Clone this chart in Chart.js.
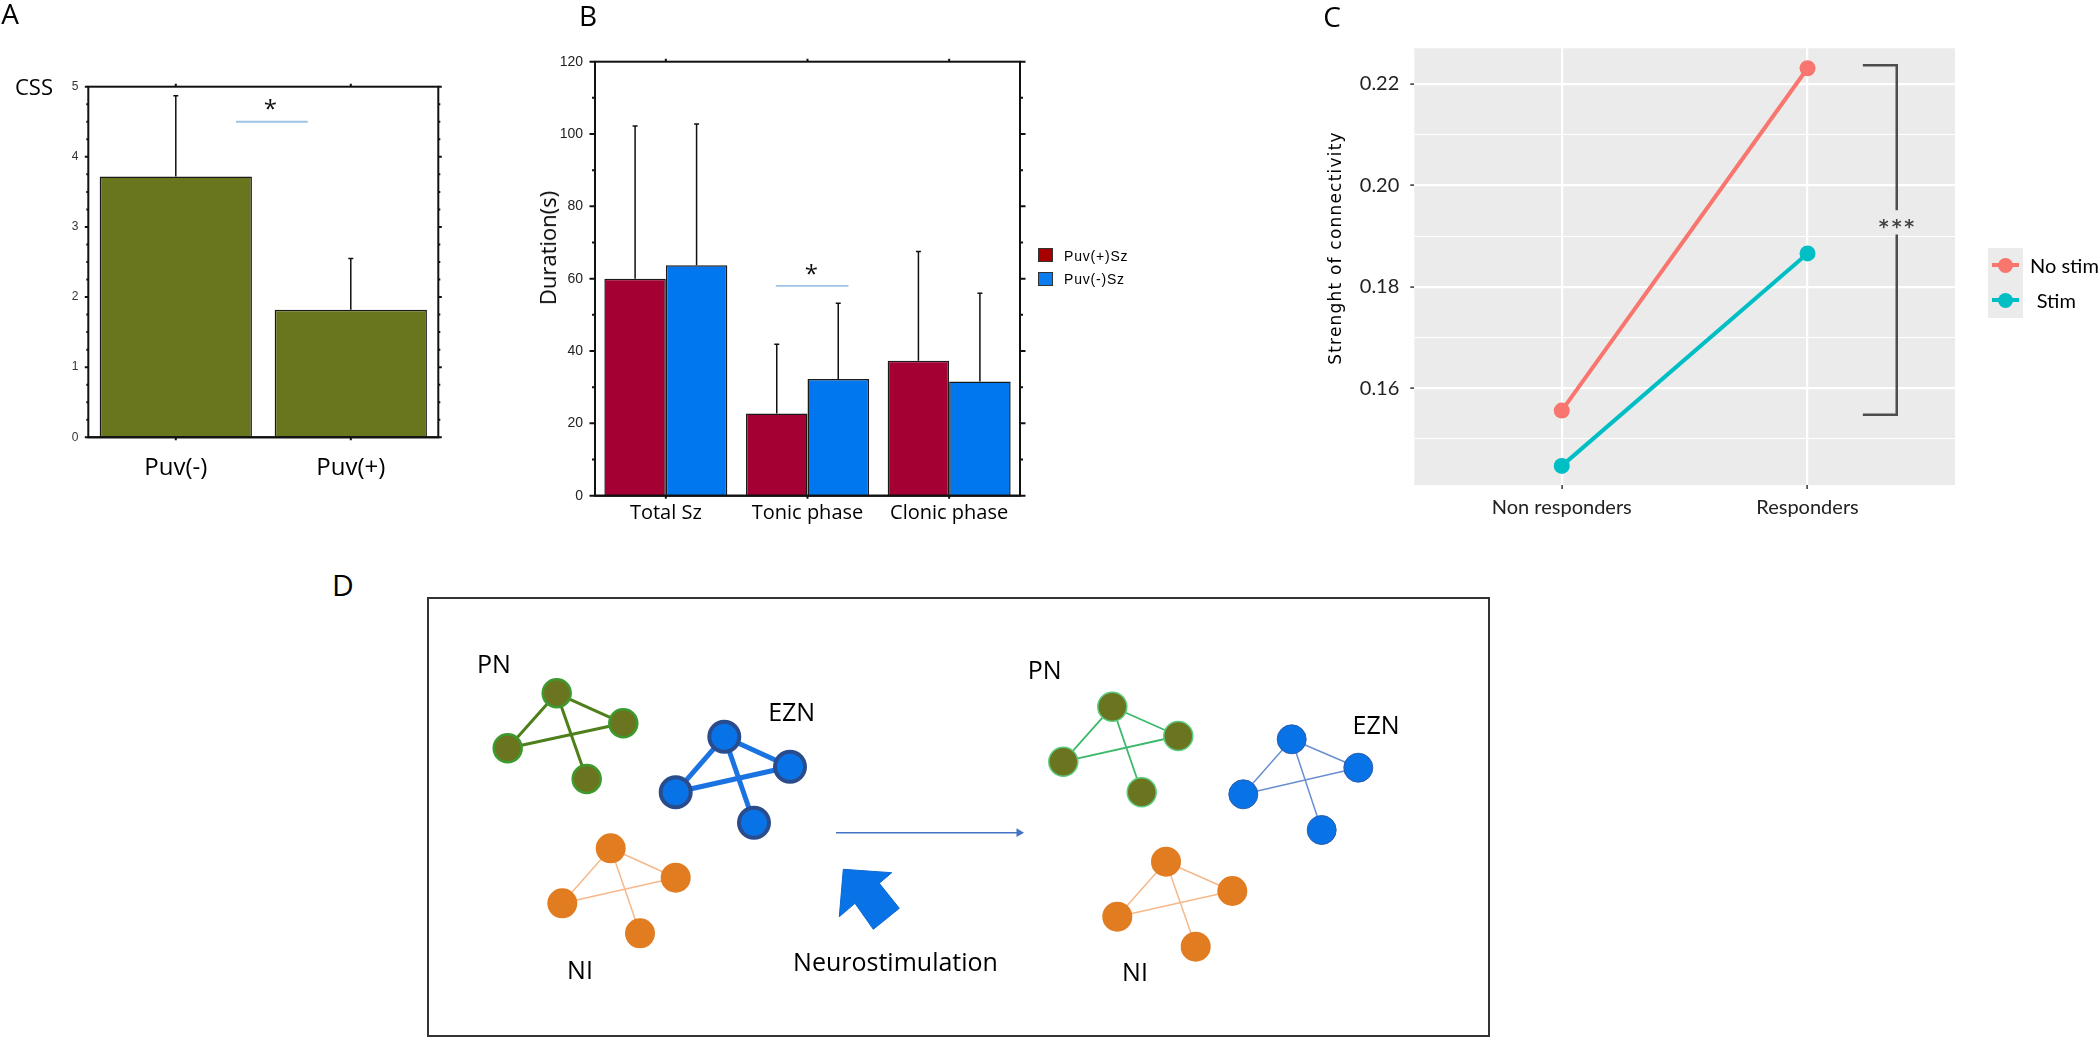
<!DOCTYPE html>
<html>
<head>
<meta charset="utf-8">
<title>Puv figure</title>
<script src="https://cdn.jsdelivr.net/npm/chart.js@4.4.0/dist/chart.umd.min.js"></script>
<style>
  body { margin: 0; width: 2100px; height: 1039px; position: relative; overflow: hidden; background: #fff; font-family: "Open Sans", sans-serif; }
  canvas { position: absolute; }
  .t { position: absolute; line-height: 1; white-space: nowrap; color: #000; transform: translate(-50%, -50%); }
  .l { transform: translate(0, -50%); }
  .r90 { transform: translate(-50%, -50%) rotate(-90deg); }
  .box { position: absolute; left: 427px; top: 597px; width: 1063px; height: 440px; border: 2px solid #333; box-sizing: border-box; }
  .sq { position: absolute; width: 15px; height: 14px; border: 1.5px solid #333; box-sizing: border-box; }
  .key { position: absolute; left: 1988px; top: 248px; width: 35px; height: 70px; background: #ebebeb; }
  .key .ln { position: absolute; left: 4px; width: 27px; height: 4px; }
  .key .dot { position: absolute; left: 10px; width: 15px; height: 15px; border-radius: 50%; }
</style>
</head>
<body>
<canvas id="chartA" width="480" height="500" style="left:0;top:0"></canvas>
<canvas id="chartB" width="680" height="540" style="left:520px;top:0"></canvas>
<canvas id="chartC" width="800" height="540" style="left:1300px;top:0"></canvas>
<div class="box"></div>
<canvas id="chartD" width="1062" height="439" style="left:428px;top:598px"></canvas>

<div class="sq" style="left:1038px;top:248px;background:#a80000"></div>
<div class="sq" style="left:1038px;top:272px;background:#0a7cf0"></div>
<div class="key">
  <div class="ln" style="top:15px;background:#F8766D"></div>
  <div class="dot" style="top:9.5px;background:#F8766D"></div>
  <div class="ln" style="top:50px;background:#00BFC4"></div>
  <div class="dot" style="top:44.5px;background:#00BFC4"></div>
</div>

<script>
// ---- panel A: CSS score
const cssLabels = ["Puv(-)", "Puv(+)"];
const cssMeans = [3.72, 1.82];
const cssErrTops = [4.87, 2.55];

// ---- panel B: seizure durations
const phaseLabels = ["Total Sz", "Tonic phase", "Clonic phase"];
const puvPosMeans = [60.0, 22.7, 37.3];
const puvPosErrTops = [102.2, 41.9, 67.5];
const puvNegMeans = [63.7, 32.3, 31.6];
const puvNegErrTops = [102.8, 53.2, 56.0];

// ---- panel C: connectivity strength
const groupLabels = ["Non responders", "Responders"];
const noStimValues = [0.1556, 0.2231];
const stimValues = [0.1447, 0.1866];
const connMajorTicks = [0.16, 0.18, 0.20, 0.22];
const connMinorTicks = [0.15, 0.17, 0.19, 0.21];

// ---- panel D: network diagram (box units, y down)
const pnBefore = [[128.7, 95.3], [195.3, 125.3], [79.7, 150.3], [158.7, 181]];
const eznBefore = [[296.3, 138.7], [362, 168.7], [247.7, 194.3], [326, 224.7]];
const niBefore = [[182.7, 250.3], [247.7, 279.7], [134.3, 305.3], [212, 335.3]];
const pnAfter = [[684.3, 108.7], [750.3, 138], [635.3, 163.7], [713.7, 194.3]];
const eznAfter = [[863.7, 141.3], [930.3, 169.7], [815.3, 196.3], [893.7, 232]];
const niAfter = [[738, 263.7], [804.3, 293], [689.3, 318.7], [767.7, 348.7]];
const networkEdges = [[0, 1], [0, 2], [2, 1], [0, 3]];
const timeArrow = [[408, 234.7], [591, 234.7]];
const stimArrow = [[415.3, 271.3], [463.7, 274.7], [451.3, 285.3], [471.3, 310.3],
                   [445.3, 331.3], [427, 305.3], [411.3, 318.7], [415.3, 271.3]];

const base = { animation: false, responsive: false, events: [] };
const noPlugins = { legend: { display: false }, tooltip: { enabled: false } };

function framePlugin(id, opt) {
  return {
    id: id,
    afterDatasetsDraw(chart) {
      const { ctx, chartArea: a, scales } = chart;
      const x = scales.x, y = scales.y;
      ctx.save();
      ctx.strokeStyle = opt.color;
      ctx.lineWidth = opt.width;
      ctx.strokeRect(a.left, a.top, a.right - a.left, a.bottom - a.top);
      ctx.beginPath();
      ctx.moveTo(a.left - 3, a.bottom);
      ctx.lineTo(a.right + 3, a.bottom);
      for (let v = y.min; v <= y.max + 1e-9; v += opt.minorStep) {
        const major = Math.abs(v / opt.majorStep - Math.round(v / opt.majorStep)) < 1e-6;
        const len = major ? opt.majorLen : opt.minorLen;
        const py = y.getPixelForValue(v);
        ctx.moveTo(a.left - len, py); ctx.lineTo(a.left, py);
        ctx.moveTo(a.right, py); ctx.lineTo(a.right + len, py);
      }
      chart.data.labels.forEach((_, i) => {
        const px = x.getPixelForValue(i);
        ctx.moveTo(px, a.top - opt.catLen); ctx.lineTo(px, a.top);
        ctx.moveTo(px, a.bottom); ctx.lineTo(px, a.bottom + opt.catLen);
      });
      ctx.stroke();
      ctx.restore();
    }
  };
}

const errorBarPlugin = {
  id: "errorBars",
  afterDatasetsDraw(chart) {
    const { ctx } = chart;
    const y = chart.scales.y;
    ctx.save();
    ctx.strokeStyle = "#111";
    ctx.lineWidth = 1.5;
    chart.data.datasets.forEach((ds, di) => {
      chart.getDatasetMeta(di).data.forEach((bar, i) => {
        const top = y.getPixelForValue(ds.errTops[i]);
        ctx.beginPath();
        ctx.moveTo(bar.x, bar.y); ctx.lineTo(bar.x, top);
        ctx.moveTo(bar.x - 2.5, top); ctx.lineTo(bar.x + 2.5, top);
        ctx.stroke();
      });
    });
    ctx.restore();
  }
};

function sigPlugin(id, s) {
  return {
    id: id,
    afterDatasetsDraw(chart) {
      const { ctx } = chart;
      const x = chart.scales.x, y = chart.scales.y;
      const py = y.getPixelForValue(s.y);
      ctx.save();
      ctx.strokeStyle = "#9dc3e6";
      ctx.lineWidth = 1.8;
      ctx.beginPath();
      ctx.moveTo(x.getPixelForValue(s.from), py);
      ctx.lineTo(x.getPixelForValue(s.to), py);
      ctx.stroke();
      ctx.fillStyle = "#111";
      ctx.font = "24px 'Open Sans'";
      ctx.textAlign = "center";
      ctx.textBaseline = "alphabetic";
      ctx.fillText("*", x.getPixelForValue(s.starX), y.getPixelForValue(s.starY) + 13.5);
      ctx.restore();
    }
  };
}

// ---------- A
new Chart(document.getElementById("chartA"), {
  type: "bar",
  data: {
    labels: cssLabels,
    datasets: [{
      data: cssMeans, errTops: cssErrTops,
      backgroundColor: "#6a761e", borderColor: "#1a1a1a", borderWidth: 1.5,
      barPercentage: 0.87, categoryPercentage: 1
    }]
  },
  options: Object.assign({}, base, {
    layout: { autoPadding: false, padding: { top: 86.7, right: 41.7, left: 0, bottom: 0 } },
    plugins: noPlugins,
    scales: {
      x: {
        grid: { display: false, drawTicks: false }, border: { display: false },
        ticks: { font: { family: "Open Sans", size: 24 }, color: "#000", padding: 16 },
        afterFit: (s) => { s.height = 62.7; }
      },
      y: {
        min: 0, max: 5,
        grid: { display: false, drawTicks: false }, border: { display: false },
        ticks: { stepSize: 1, font: { family: "Liberation Sans", size: 12 }, color: "#333", padding: 10 },
        afterFit: (s) => { s.width = 88.3; }
      }
    }
  }),
  plugins: [
    framePlugin("frameA", { color: "#111", width: 2, minorStep: 0.25, majorStep: 1, majorLen: 3.5, minorLen: 2, catLen: 3 }),
    errorBarPlugin,
    sigPlugin("sigA", { from: 0.344, to: 0.754, y: 4.5, starX: 0.54, starY: 4.76 })
  ]
});

// ---------- B
new Chart(document.getElementById("chartB"), {
  type: "bar",
  data: {
    labels: phaseLabels,
    datasets: [
      { label: "Puv(+)Sz", data: puvPosMeans, errTops: puvPosErrTops, backgroundColor: "#a50034" },
      { label: "Puv(-)Sz", data: puvNegMeans, errTops: puvNegErrTops, backgroundColor: "#0077ee" }
    ]
  },
  options: Object.assign({}, base, {
    layout: { autoPadding: false, padding: { top: 61.7, right: 180, left: 0, bottom: 0 } },
    plugins: noPlugins,
    datasets: { bar: { categoryPercentage: 0.868, barPercentage: 1, borderWidth: 1.5, borderColor: "#1a1a1a" } },
    scales: {
      x: {
        grid: { display: false, drawTicks: false }, border: { display: false },
        ticks: { font: { family: "Open Sans", size: 20 }, color: "#000", padding: 6 },
        afterFit: (s) => { s.height = 44.3; }
      },
      y: {
        min: 0, max: 120,
        grid: { display: false, drawTicks: false }, border: { display: false },
        ticks: { stepSize: 20, font: { family: "Liberation Sans", size: 14 }, color: "#222", padding: 12 },
        afterFit: (s) => { s.width = 75; }
      }
    }
  }),
  plugins: [
    framePlugin("frameB", { color: "#111", width: 2, minorStep: 10, majorStep: 20, majorLen: 5.5, minorLen: 3, catLen: 3 }),
    errorBarPlugin,
    sigPlugin("sigB", { from: 0.776, to: 1.289, y: 58, starX: 1.028, starY: 62.9 })
  ]
});

// ---------- C
const bracketC = { x: 2.363, tickX: 2.225, top: 0.2237, bottom: 0.1548, gapTop: 0.1951, gapBottom: 0.1903, label: 0.1928 };

const panelBgPlugin = {
  id: "panelBg",
  beforeDraw(chart) {
    const { ctx, chartArea: a } = chart;
    ctx.save();
    ctx.fillStyle = "#ebebeb";
    ctx.fillRect(a.left, a.top, a.right - a.left, a.bottom - a.top);
    ctx.restore();
  }
};

const bracketPlugin = {
  id: "bracket",
  afterDatasetsDraw(chart) {
    const { ctx } = chart;
    const x = chart.scales.x, y = chart.scales.y;
    const bx = x.getPixelForValue(bracketC.x), tx = x.getPixelForValue(bracketC.tickX);
    const yt = y.getPixelForValue(bracketC.top), yb = y.getPixelForValue(bracketC.bottom);
    ctx.save();
    ctx.strokeStyle = "#4d4d4d";
    ctx.lineWidth = 2.5;
    ctx.beginPath();
    ctx.moveTo(tx, yt); ctx.lineTo(bx, yt); ctx.lineTo(bx, y.getPixelForValue(bracketC.gapTop));
    ctx.moveTo(bx, y.getPixelForValue(bracketC.gapBottom)); ctx.lineTo(bx, yb); ctx.lineTo(tx, yb);
    ctx.stroke();
    ctx.fillStyle = "#444";
    ctx.font = "bold 19px 'DejaVu Sans'";
    ctx.textAlign = "center";
    ctx.textBaseline = "alphabetic";
    const ly = y.getPixelForValue(bracketC.label) + 11;
    [-13, 0, 12.5].forEach((dx) => ctx.fillText("*", bx + dx, ly));
    ctx.restore();
  }
};

const isMajorConn = (v) => connMajorTicks.some((m) => Math.abs(m - v) < 1e-6);

new Chart(document.getElementById("chartC"), {
  type: "line",
  data: {
    datasets: [
      { label: "No stim", data: noStimValues.map((v, i) => ({ x: i + 1, y: v })), borderColor: "#F8766D", backgroundColor: "#F8766D" },
      { label: "Stim", data: stimValues.map((v, i) => ({ x: i + 1, y: v })), borderColor: "#00BFC4", backgroundColor: "#00BFC4" }
    ]
  },
  options: Object.assign({}, base, {
    layout: { autoPadding: false, padding: { top: 48.3, right: 145, left: 0, bottom: 0 } },
    plugins: noPlugins,
    elements: { line: { borderWidth: 4 }, point: { radius: 8, borderWidth: 0 } },
    scales: {
      x: {
        type: "linear", min: 0.4, max: 2.6,
        afterBuildTicks: (s) => { s.ticks = groupLabels.map((_, i) => ({ value: i + 1 })); },
        grid: { color: "#fff", lineWidth: 2.2, drawTicks: true, tickLength: 4, tickColor: "#333", tickWidth: 1.5 },
        border: { display: false },
        ticks: { autoSkip: false, maxRotation: 0, callback: (v) => groupLabels[v - 1], font: { family: "Lato", size: 20 }, color: "#222", padding: 6.5 },
        afterFit: (s) => { s.height = 55; }
      },
      y: {
        min: 0.14093, max: 0.22704,
        afterBuildTicks: (s) => { s.ticks = connMinorTicks.concat(connMajorTicks).sort().map((v) => ({ value: v })); },
        grid: {
          color: "#fff",
          lineWidth: (c) => (c.tick && isMajorConn(c.tick.value) ? 2.2 : 1.1),
          drawTicks: true, tickLength: 4, tickWidth: 1.5,
          tickColor: (c) => (c.tick && isMajorConn(c.tick.value) ? "#333" : "rgba(0,0,0,0)")
        },
        border: { display: false },
        ticks: {
          autoSkip: false,
          callback: (v) => (isMajorConn(v) ? v.toFixed(2) : ""),
          font: { family: "Lato", size: 20 }, color: "#222", padding: 11
        },
        afterFit: (s) => { s.width = 114.3; }
      }
    }
  }),
  plugins: [panelBgPlugin, bracketPlugin]
});

// ---------- D
const netStyles = [
  { nodes: pnBefore, fill: "#6b7520", stroke: "#3c9a2e", strokeW: 2.5, r: 14, edge: "#4e7f1a", edgeW: 3 },
  { nodes: eznBefore, fill: "#0873e6", stroke: "#2b4c8c", strokeW: 4, r: 15, edge: "#1a73e0", edgeW: 5 },
  { nodes: niBefore, fill: "#e27c21", stroke: "#e27c21", strokeW: 0, r: 15, edge: "#f6b88a", edgeW: 1.5 },
  { nodes: pnAfter, fill: "#6b7520", stroke: "#5ccb7e", strokeW: 1.5, r: 14.5, edge: "#3cb96a", edgeW: 1.8 },
  { nodes: eznAfter, fill: "#0873e6", stroke: "#2f5ba8", strokeW: 1, r: 14.5, edge: "#6a8fd0", edgeW: 1.5 },
  { nodes: niAfter, fill: "#e27c21", stroke: "#e27c21", strokeW: 0, r: 15, edge: "#f6b88a", edgeW: 1.5 }
];

const toXY = (p) => ({ x: p[0], y: p[1] });
const diagramSets = [];
netStyles.forEach((n) => {
  networkEdges.forEach(([a, b]) => {
    diagramSets.push({
      data: [toXY(n.nodes[a]), toXY(n.nodes[b])], showLine: true,
      borderColor: n.edge, borderWidth: n.edgeW, pointRadius: 0, order: 3
    });
  });
  diagramSets.push({
    data: n.nodes.map(toXY), showLine: false, order: 1,
    pointRadius: n.r, pointBackgroundColor: n.fill, pointBorderColor: n.stroke, pointBorderWidth: n.strokeW
  });
});
diagramSets.push({
  data: timeArrow.map(toXY), showLine: true, borderColor: "#4472c4", borderWidth: 1.5,
  pointRadius: [0, 5], pointStyle: "triangle", pointRotation: 90,
  pointBackgroundColor: "#4472c4", pointBorderWidth: 0, order: 2
});
diagramSets.push({
  data: stimArrow.map(toXY), showLine: true, fill: "shape",
  borderColor: "#0b66d0", borderWidth: 1, backgroundColor: "#0873e6", pointRadius: 0, order: 2
});

new Chart(document.getElementById("chartD"), {
  type: "scatter",
  data: { datasets: diagramSets },
  options: Object.assign({}, base, {
    layout: { autoPadding: false, padding: 0 },
    plugins: Object.assign({ filler: { propagate: false } }, noPlugins),
    scales: {
      x: { type: "linear", min: 0, max: 1062, display: false },
      y: { type: "linear", min: 0, max: 439, reverse: true, display: false }
    }
  })
});

// ---------- text labels
const texts = [
  { s: "A", x: 10, y: 12.5, f: "28px 'Open Sans'" },
  { s: "B", x: 588, y: 15, f: "28px 'Open Sans'" },
  { s: "C", x: 1332, y: 15.5, f: "28px 'Open Sans'" },
  { s: "D", x: 343, y: 585, f: "30px 'Open Sans'" },
  { s: "CSS", x: 34, y: 85.7, f: "22px 'Open Sans'" },
  { s: "Duration(s)", x: 547, y: 248, f: "22px 'Open Sans'", c: "r90" },
  { s: "Strenght of connectivity", x: 1335, y: 248, f: "17px 'DejaVu Sans'", c: "r90", ls: "1.2px" },
  { s: "Puv(+)Sz", x: 1064, y: 255.5, f: "14px 'Liberation Sans'", c: "l", ls: "0.8px" },
  { s: "Puv(-)Sz", x: 1064, y: 279, f: "14px 'Liberation Sans'", c: "l", ls: "0.8px" },
  { s: "No stim", x: 2030, y: 265, f: "20px Lato", c: "l" },
  { s: "Stim", x: 2036.7, y: 300, f: "20px Lato", c: "l" },
  { s: "PN", x: 494, y: 663, f: "25px 'Open Sans'" },
  { s: "EZN", x: 791.7, y: 711, f: "25px 'Open Sans'" },
  { s: "NI", x: 580, y: 969, f: "25px 'Open Sans'" },
  { s: "Neurostimulation", x: 895.5, y: 961, f: "25px 'Open Sans'" },
  { s: "PN", x: 1044.7, y: 669, f: "25px 'Open Sans'" },
  { s: "EZN", x: 1376, y: 724, f: "25px 'Open Sans'" },
  { s: "NI", x: 1135, y: 971, f: "25px 'Open Sans'" }
];
texts.forEach((t) => {
  const d = document.createElement("div");
  d.className = "t" + (t.c ? " " + t.c : "");
  d.textContent = t.s;
  d.style.left = t.x + "px";
  d.style.top = t.y + "px";
  d.style.font = t.f;
  d.style.lineHeight = "1";
  if (t.ls) d.style.letterSpacing = t.ls;
  document.body.appendChild(d);
});
</script>
</body>
</html>
